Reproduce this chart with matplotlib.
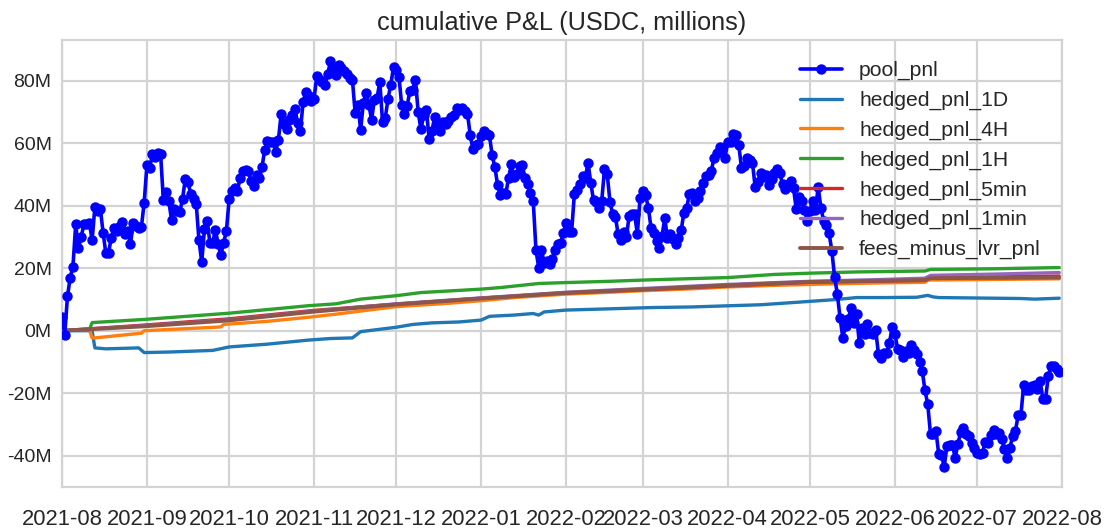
import numpy as np
import pandas as pd
import matplotlib
matplotlib.use("Agg")
import matplotlib.pyplot as plt
import matplotlib.dates as mdates
import matplotlib.ticker as mticker
import seaborn as sns

sns.set_style("whitegrid")
plt.rcParams["font.family"] = ["Liberation Sans", "DejaVu Sans"]

# ── Data (USDC, millions) ──────────────────────────────────────────────────────
START = pd.Timestamp("2021-08-01")

# daily cumulative pool P&L
pool_pnl = [
    4.5, -1.3, 11, 17, 20.5, 34, 26.5, 30, 34, 34, 34.5, 29, 39.5, 38.2, 39, 31.4,
    24.8, 25, 29.8, 33, 32, 33.5, 34.8, 30.9, 32, 27.7, 34.6, 33.5, 33, 33.3, 41,
    53, 52, 56.4, 55.5, 56.8, 56.4, 41.8, 44.3, 41.4, 35.4, 38.9, 38.4, 38, 42.1,
    48.6, 47.5, 43.7, 42.1, 40.5, 28.9, 22, 32.5, 35.2, 28, 28.2, 32.2, 27.7, 24.2,
    28.2, 31.8,
    42, 44.6, 45.5, 44.6, 48.9, 51.2, 51.3, 51.2, 48, 46.2, 49.9, 48.7, 52.3, 57.9,
    60.6, 60.4, 60.4, 57.2, 61.1, 69.4, 66, 64.6, 67.5, 69.1, 71, 66.5, 63.8, 73.1,
    76.4, 75, 73.6,
    74.2, 81.4, 80.3, 79.5, 78.7, 82.2, 86.2, 84, 81.7, 84.9, 84, 83.2, 82.2, 81,
    80.3, 69.7, 72.3, 64.3, 72.9, 76.1, 72.3, 67.5, 73.9, 74.5, 79.6, 66.8, 68.1,
    74.2, 78.7, 84.3,
    83.5, 81.1, 72.1, 69.4, 72, 76.8, 77.1, 80.3, 70, 64.4, 68.9, 70.7, 61.4, 63.8,
    68.3, 66, 64, 66.8, 66, 67, 68.3, 68.9, 71.3, 70.7, 71.1, 70.4, 69.4, 62.6, 58,
    59.4, 59.6,
    62.2, 64, 62.8, 62.6, 56.2, 52.3, 46.6, 43.4, 44.1, 43.8, 48.9, 53.2, 49.1,
    50.2, 52.7, 53, 48.7, 46.8, 44.1, 41.5, 25.7, 20.2, 25.7, 21.8, 22.3, 21.3,
    22.9, 25.7, 27.7, 28.2, 31.1,
    34.6, 31.5, 31.5, 43.6, 44.9, 46.8, 49.5, 48.9, 53.7, 47.3, 41.7, 41.3, 39.4,
    41.5, 51.6, 50.1, 41.3, 37.2, 36.4, 30.8, 28.9, 31.7, 30, 36.7, 37.2, 37.2, 31,
    42.4,
    44.7, 43.4, 39.4, 32.9, 31.3, 28.7, 26.3, 30.3, 35.9, 29.7, 30.8, 29.2, 27.6,
    29.7, 32.1, 37.8, 39.4, 43.6, 44.1, 41.5, 42.4, 44.7, 47.1, 49.5, 49.8, 51.1,
    55.4, 56.7, 58.8, 58.4, 55.4,
    60.5, 60.5, 62.9, 62.7, 59.5, 52.2, 52.8, 55.2, 54.5, 53.8, 46, 47.7, 50.6,
    49.3, 49.9, 46.7, 48.5, 50.3, 51.7, 50.3, 46.9, 45.3, 46.5, 48, 45.6, 38.9,
    42.8, 41.6, 38.6, 35.2,
    38.4, 41.6, 38.6, 46, 39.2, 35.2, 33.9, 31.1, 25.4, 17.2, 11.7, 4, -2.2, 1.6,
    3.7, 7.4, 2.6, 5.3, -3.8, 1, -1.1, 2.1, -0.6, -1.1, 0.2, -7.5, -8.6, -7, -7.1,
    -4, 1.1,
    -1.1, -5.7, -6.1, -8.5, -6.6, -7.1, -4.5, -6.1, -7.6, -10, -13, -19.1, -23.6,
    -33.1, -32.9, -32.1, -39.5, -39.7, -43.5, -36.8, -36.5, -36.5, -40.6, -36.3,
    -32.4, -31.2, -33.1, -33.7, -35.8, -37.4,
    -39, -39.3, -39, -35.5, -35.8, -33.3, -31.8, -32.9, -32.6, -34.7, -37.9, -40.6,
    -37.4, -33.7, -32.1, -27, -27, -17.4, -19, -19.1, -17.7, -17.4, -18.5, -16.1,
    -21.7, -21.7, -14.5, -11.4, -11.4, -12.1, -13.2,
]

# hedged / fee series: day offsets from START and values
h1d_days = [0, 11, 12, 16, 28, 30, 40, 55, 61, 75, 90, 98, 106, 109, 122, 128,
            135, 145, 153, 156, 165, 172, 174, 176, 184, 200, 215, 230, 255, 270,
            283, 290, 300, 312, 316, 318, 320, 340, 350, 355, 364]
h1d_vals = [0, 0, -5.5, -5.8, -5.5, -7.0, -6.8, -6.3, -5.2, -4.3, -3.0, -2.5,
            -2.3, -0.3, 1.1, 2.0, 2.5, 2.8, 3.4, 4.6, 5.0, 5.5, 5.0, 6.0, 6.6,
            7.0, 7.4, 7.6, 8.3, 9.2, 10.0, 10.6, 10.6, 10.7, 11.3, 10.8, 10.6,
            10.4, 10.3, 10.1, 10.4]

h4h_days = [0, 10, 11, 12, 29, 30, 58, 59, 75, 90, 100, 122, 140, 153, 165, 184,
            200, 212, 230, 243, 260, 273, 283, 300, 315, 316, 340, 364]
h4h_vals = [0, 0.3, -2.3, -2.3, -0.8, 0.0, 1.2, 2.0, 3.0, 4.3, 5.3, 7.7, 8.7,
            9.6, 10.6, 11.7, 12.3, 12.8, 13.4, 14.0, 14.5, 14.8, 15.0, 15.3,
            15.5, 16.2, 16.4, 16.6]

h1h_days = [0, 10, 11, 30, 61, 90, 100, 109, 122, 131, 153, 160, 174, 184, 200,
            212, 243, 260, 273, 290, 315, 317, 340, 364]
h1h_vals = [0, 0.3, 2.6, 3.6, 5.6, 8.0, 8.6, 10.1, 11.2, 12.2, 13.3, 13.8, 15.1,
            15.4, 15.8, 16.2, 17.0, 18.0, 18.4, 18.8, 19.1, 19.6, 19.8, 20.2]

slow_days = [0, 30, 61, 92, 122, 153, 184, 212, 243, 273, 300, 315, 317, 340, 364]
h5m_vals  = [0, 1.8, 3.8, 6.5, 8.5, 10.4, 12.1, 13.1, 14.3, 15.5, 15.9, 16.1,
             16.9, 17.2, 17.5]
h1m_vals  = [0, 1.6, 3.5, 6.3, 8.6, 10.5, 12.3, 13.5, 14.8, 15.8, 16.4, 16.8,
             17.7, 18.1, 18.6]
fees_vals = [0, 1.4, 3.3, 6.1, 8.4, 10.3, 12.1, 13.2, 14.5, 15.6, 16.0, 16.2,
             16.8, 16.9, 17.0]


def to_dates(days):
    return START + pd.to_timedelta(days, unit="D")


pool_dates = pd.date_range(START, periods=len(pool_pnl), freq="D")

# ── Plot ───────────────────────────────────────────────────────────────────────
fig = plt.figure(figsize=(11.05, 5.29), dpi=100)
ax = fig.add_axes([0.0561, 0.0794, 0.905, 0.845])

ax.plot(pool_dates, pool_pnl, color="blue", marker="o", markersize=6.5,
        linewidth=2.6, label="pool_pnl", zorder=4)
ax.plot(to_dates(h1d_days), h1d_vals, color="#1f77b4", lw=2.4, label="hedged_pnl_1D")
ax.plot(to_dates(h4h_days), h4h_vals, color="#ff7f0e", lw=2.4, label="hedged_pnl_4H")
ax.plot(to_dates(h1h_days), h1h_vals, color="#2ca02c", lw=2.4, label="hedged_pnl_1H")
ax.plot(to_dates(slow_days), h5m_vals, color="#d62728", lw=2.4, label="hedged_pnl_5min")
ax.plot(to_dates(slow_days), h1m_vals, color="#9467bd", lw=2.4, label="hedged_pnl_1min")
ax.plot(to_dates(slow_days), fees_vals, color="#8c564b", lw=2.8, label="fees_minus_lvr_pnl")

ax.set_xlim(pd.Timestamp("2021-08-01"), pd.Timestamp("2022-08-01"))
ax.set_ylim(-50, 93)
ax.yaxis.set_major_locator(mticker.MultipleLocator(20))
ax.yaxis.set_major_formatter(mticker.FuncFormatter(lambda v, p: f"{v:.0f}M"))
ax.xaxis.set_major_locator(mdates.MonthLocator())
ax.xaxis.set_major_formatter(mdates.DateFormatter("%Y-%m"))

ax.tick_params(axis="y", labelsize=14, pad=4)
ax.tick_params(axis="x", labelsize=15.8, pad=12)

ax.grid(True, color="#d3d3d3", linewidth=1.6)
for sp in ax.spines.values():
    sp.set_color("#d3d3d3")
    sp.set_linewidth(1.6)

ax.set_title("cumulative P&L (USDC, millions)", fontsize=18.2, pad=7)
ax.legend(loc="upper right", fontsize=15.2, frameon=False,
          bbox_to_anchor=(1.0, 1.0), labelspacing=0.5, handlelength=2.0,
          borderaxespad=0.6)

fig.savefig("out.png", dpi=100)
